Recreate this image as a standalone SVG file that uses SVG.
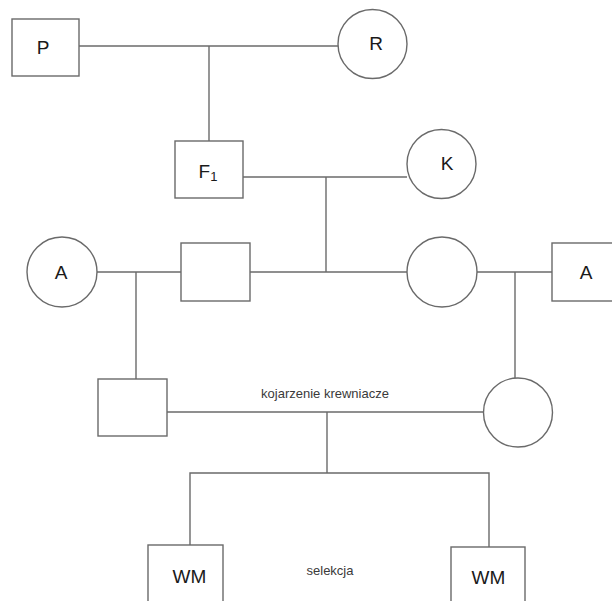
<svg xmlns="http://www.w3.org/2000/svg" width="612" height="601" viewBox="0 0 612 601">
<style>
.n{fill:#fff;stroke:#6a6a6a;stroke-width:1.4}
.c line,.c polyline{stroke:#6a6a6a;stroke-width:1.4;fill:none}
.t{font-family:"Liberation Sans",Arial,sans-serif;font-size:19px;fill:#1a1a1a;text-anchor:middle}
.s{font-family:"Liberation Sans",Arial,sans-serif;font-size:13px;fill:#3a3a3a;text-anchor:middle}
</style>
<rect width="612" height="601" fill="#fff"/>
<g class="c" id="connectors">
<line x1="79" y1="46" x2="338" y2="46"/>
<line x1="209" y1="46" x2="209" y2="141"/>
<line x1="243" y1="177" x2="407" y2="177"/>
<line x1="326" y1="177" x2="326" y2="272"/>
<line x1="97" y1="272" x2="181" y2="272"/>
<line x1="250" y1="272" x2="407" y2="272"/>
<line x1="477" y1="272" x2="552" y2="272"/>
<line x1="136" y1="272" x2="136" y2="379"/>
<line x1="515" y1="272" x2="515" y2="379"/>
<line x1="167" y1="412" x2="483" y2="412"/>
<line x1="327" y1="412" x2="327" y2="473"/>
<polyline points="190,545 190,473 489,473 489,547"/>
</g>
<g id="P"><rect class="n" x="12" y="19" width="67" height="57"/><text class="t" x="43" y="54">P</text></g>
<g id="R"><circle class="n" cx="372.5" cy="44" r="34.5"/><text class="t" x="376" y="50">R</text></g>
<g id="F1"><rect class="n" x="175" y="141" width="68" height="57"/><text class="t" x="208" y="178">F<tspan font-size="13" dy="3">1</tspan></text></g>
<g id="K"><circle class="n" cx="441.5" cy="164" r="34.5"/><text class="t" x="447" y="170">K</text></g>
<g id="A1"><circle class="n" cx="62" cy="272" r="35"/><text class="t" x="61" y="279">A</text></g>
<g id="M1"><rect class="n" x="181" y="243" width="69" height="58"/></g>
<g id="F2"><circle class="n" cx="442" cy="272" r="35"/></g>
<g id="A2"><rect class="n" x="552" y="243" width="62" height="58"/><text class="t" x="586" y="279">A</text></g>
<g id="M2"><rect class="n" x="98" y="379" width="69" height="57"/></g>
<g id="F3"><circle class="n" cx="518" cy="412.5" r="34.5"/></g>
<g id="label1"><text class="s" x="325" y="398">kojarzenie krewniacze</text></g>
<g id="WM1"><rect class="n" x="148" y="545" width="75" height="60"/><text class="t" x="189.5" y="583">WM</text></g>
<g id="WM2"><rect class="n" x="451" y="547" width="74" height="60"/><text class="t" x="488.5" y="584">WM</text></g>
<g id="label2"><text class="s" x="330" y="575">selekcja</text></g>
</svg>
